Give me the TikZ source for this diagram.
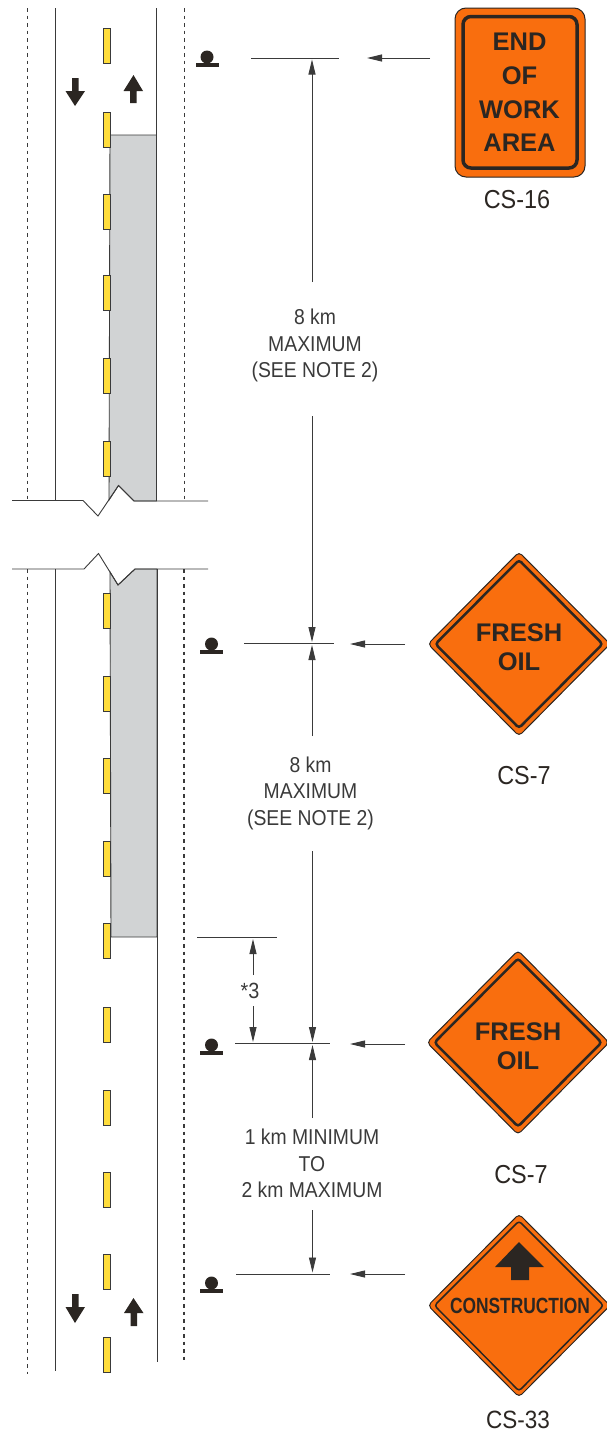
\documentclass[tikz,border=0pt]{standalone}
\usepackage{fontspec}
\setmainfont{Liberation Sans}
\newfontfamily\labelfont[FakeStretch=0.9]{Liberation Sans}
\newfontfamily\narrowbold[FakeStretch=0.79]{Liberation Sans Bold}
\usetikzlibrary{arrows.meta}
\definecolor{signorange}{HTML}{F96E0E}
\definecolor{signdark}{HTML}{2B2622}
\definecolor{workgray}{HTML}{D1D3D4}
\definecolor{markyellow}{HTML}{FFDD3C}
\definecolor{linedark}{HTML}{3A3A3A}
\begin{document}
\begin{tikzpicture}[x=1pt,y=-1pt,
    roadline/.style={line width=1pt, linedark},
    edgeline/.style={line width=1.2pt, dash pattern=on 3.5pt off 4pt, linedark},
    breakline/.style={line width=0.9pt, linedark},
    workarea/.style={fill=workgray, draw=linedark, line width=0.9pt},
    lanemark/.style={fill=markyellow, draw=linedark, line width=0.9pt},
    dirarrow/.style={fill=signdark, draw=none},
    dimline/.style={line width=0.9pt, linedark},
    dimarrow/.style={line width=0.9pt, linedark, -{Stealth[length=15pt,width=7pt,inset=0pt]}},
    signbody/.style={fill=signorange, draw=signdark, line width=1pt},
    signrim/.style={draw=signdark, line width=2.5pt},
    dimtext/.style={font=\fontsize{21.5}{26.5}\labelfont, text=linedark, align=center, inner sep=0pt},
    signtext/.style={font=\fontsize{25.5}{29}\selectfont\bfseries, text=signdark, align=center, inner sep=0pt},
    signlabel/.style={font=\fontsize{26}{28}\labelfont, text=signdark, inner sep=0pt}]

    \useasboundingbox (0,0) rectangle (606,1432);

    % 1. Work area, grey
    \path[workarea] (110,135) -- (156.5,135) -- (156.5,501) -- (134,501) -- (118.5,485.5) -- (109,500) -- cycle;
    \path[workarea] (110,572) -- (118,585) -- (135,569) -- (157,569) -- (157,937) -- (111,937) -- cycle;

    % 2. Road edges
    \draw[roadline] (55,8) -- (55,500.5);
    \draw[roadline] (156.5,8) -- (156.5,501);
    \draw[roadline] (55.5,569) -- (55.5,1371);
    \draw[roadline] (157,569) -- (157,1362);
    \draw[edgeline] (27.5,8) -- (27.5,501);
    \draw[edgeline] (27.5,569) -- (27.5,1374);
    \draw[edgeline] (184.5,8) -- (184.5,501);
    \draw[edgeline] (184,569) -- (184,1363);

    % 3. Break lines
    \draw[breakline] (12,500.5) -- (83,500.5) -- (98,516) -- (118.5,485.5) -- (134,501) -- (208,501);
    \draw[breakline] (12,569) -- (84,569) -- (98.5,553.5) -- (118,585) -- (135,569) -- (208,569);

    % 4. Yellow lane marks
    \foreach \ya in {28,112,194,275,358,441,593,676,758,841,923,1007,1090,1172,1254,1337} {
        \path[lanemark] (103,\ya) rectangle (110,\ya+35);
    }

    % 5. Direction arrows
    \fill[dirarrow] (72,78) -- (78.5,78) -- (78.5,91) -- (85,91) -- (75,106) -- (65.5,91) -- (72,91) -- cycle;
    \fill[dirarrow] (130,103) -- (136.5,103) -- (136.5,91) -- (143,91) -- (133.5,75) -- (123.5,91) -- (130,91) -- cycle;
    \fill[dirarrow] (72,1294) -- (78.5,1294) -- (78.5,1307) -- (85,1307) -- (75,1323) -- (65.5,1307) -- (72,1307) -- cycle;
    \fill[dirarrow] (130.5,1326) -- (137,1326) -- (137,1313) -- (143.5,1313) -- (133.5,1298) -- (124,1313) -- (130.5,1313) -- cycle;

    % 6. Work vehicle symbols
    \foreach \xa/\ya in {207/57,211.5/644,211.5/1045,211.5/1283} {
        \fill[signdark] (\xa,\ya) circle (6.5);
        \fill[signdark] (\xa-11.5,\ya+6) rectangle (\xa+11.5,\ya+10);
    }

    % 7. Dimension lines
    \draw[dimline] (251,58) coordinate (endL) -- (339,58) coordinate (endR);
    \draw[dimline] (244,643.5) coordinate (freshaL) -- (334,643.5) coordinate (freshaR);
    \draw[dimline, line width=1.3pt] (235,1043.5) coordinate (freshbL) -- (330,1043.5) coordinate (freshbR);
    \draw[dimline] (236,1274) coordinate (consL) -- (330,1274) coordinate (consR);
    \draw[dimline] (197,937.5) coordinate (workL) -- (277,937.5) coordinate (workR);

    \node[dimtext] (labelA) at (315,345.5) {8 km\\MAXIMUM\\(SEE NOTE 2)};
    \node[dimtext] (labelB) at (310.5,793) {8 km\\MAXIMUM\\(SEE NOTE 2)};
    \node[dimtext] (labelC) at (312,1163.5) {1 km MINIMUM\\TO\\2 km MAXIMUM};
    \node[dimtext, font=\fontsize{22}{26}\labelfont] (labelD) at (250,991) {*3};

    \draw[dimarrow] (312,282) coordinate (a1) -- (312,59.5);
    \draw[dimarrow] (312,416) coordinate (a2) -- (312,642);
    \draw[dimarrow] (312,736) coordinate (b1) -- (312,645);
    \draw[dimarrow] (312.5,851) coordinate (b2) -- (312.5,1042);
    \draw[dimarrow] (312.5,1118) coordinate (c1) -- (312.5,1045);
    \draw[dimarrow] (312.5,1210) coordinate (c2) -- (312.5,1272.5);
    \draw[dimarrow] (253,975) coordinate (d1) -- (253,939);
    \draw[dimarrow] (253,1006) coordinate (d2) -- (253,1042);

    % 8. Arrows from the signs
    \draw[dimarrow] (430,58) coordinate (s1) -- (367,58);
    \draw[dimarrow] (405,644) coordinate (s2) -- (350,644);
    \draw[dimarrow] (405,1044) coordinate (s3) -- (350,1044);
    \draw[dimarrow] (405,1274) coordinate (s4) -- (350,1274);

    % 9. Sign CS-16
    \draw[signbody, rounded corners=11pt] (455,8) rectangle (585,177);
    \draw[signrim, line width=3.5pt, rounded corners=8pt] (463,16.5) rectangle (577,168);
    \node[signtext, font=\fontsize{25.5}{33.8}\selectfont\bfseries] (signEnd) at (519.5,92.5) {END\\OF\\WORK\\AREA};
    \node[signlabel] (nameEnd) at (517,200) {CS-16};

    % 10. Diamond signs
    \foreach \xa/\ya in {519/644,518/1042.5} {
        \draw[signbody, rounded corners=4pt] (\xa-91,\ya) -- (\xa,\ya-92) -- (\xa+91,\ya) -- (\xa,\ya+92) -- cycle;
        \draw[signrim, rounded corners=3pt] (\xa-83.5,\ya) -- (\xa,\ya-84) -- (\xa+83.5,\ya) -- (\xa,\ya+84) -- cycle;
    }
    \node[signtext] (signFreshA) at (519,647) {FRESH\\OIL};
    \node[signlabel] (nameFreshA) at (524,776) {CS-7};
    \node[signtext] (signFreshB) at (518,1046) {FRESH\\OIL};
    \node[signlabel] (nameFreshB) at (521,1175) {CS-7};

    % 11. Sign CS-33
    \draw[signbody, rounded corners=4pt] (428,1305.5) -- (519,1214) -- (610,1305.5) -- (519,1397) -- cycle;
    \draw[signrim, line width=1.5pt, rounded corners=3pt] (434.5,1305.5) -- (519,1221) -- (603.5,1305.5) -- (519,1391) -- cycle;
    \fill[signdark] (495,1267) -- (519,1242) -- (544,1267) -- (529,1267) -- (529,1280) -- (511,1280) -- (511,1267) -- cycle;
    \node[signtext, font=\fontsize{22}{26}\narrowbold] (signCons) at (520,1306) {CONSTRUCTION};
    \node[signlabel, font=\fontsize{25}{28}\labelfont] (nameCons) at (518,1419.5) {CS-33};

\end{tikzpicture}
\end{document}
